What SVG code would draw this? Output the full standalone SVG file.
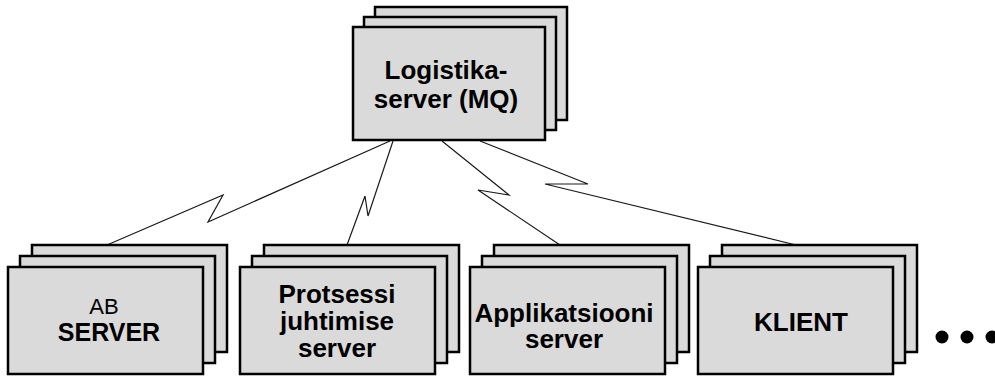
<svg xmlns="http://www.w3.org/2000/svg" width="995" height="381" viewBox="0 0 995 381">
  <style>
    .card { fill: #dadada; stroke: #000; stroke-width: 2.5; }
    .link { fill: none; stroke: #1a1a1a; stroke-width: 1.2; stroke-linejoin: miter; }
    .lbl { font-family: "Liberation Sans", Arial, sans-serif; font-weight: bold; font-size: 26px; fill: #000; text-anchor: middle; }
    .small { font-weight: normal; font-size: 22px; }
  </style>
  <defs>
    <!-- stack of three cards for the top server -->
    <g id="stackTop">
      <rect class="card" x="22" y="-20" width="192" height="113"/>
      <rect class="card" x="11" y="-10" width="192" height="113"/>
      <rect class="card" x="0" y="0" width="192" height="113"/>
    </g>
    <!-- stack of three cards for the lower row -->
    <g id="stack">
      <rect class="card" x="24" y="-22" width="195" height="107"/>
      <rect class="card" x="12" y="-11" width="195" height="107"/>
      <rect class="card" x="0" y="0" width="195" height="107"/>
    </g>
  </defs>

  <!-- lightning-style links from the logistics server -->
  <g id="connectors">
    <polyline class="link" points="390,141 208,222 223,195 107,245"/>
    <polyline class="link" points="393,141 368,216 365,196 347,245"/>
    <polyline class="link" points="442,141 509,195 478,190 560,245"/>
    <polyline class="link" points="480,141 588,184 545,184 796,245"/>
  </g>

  <g id="logistika">
    <use href="#stackTop" x="353" y="27"/>
    <text class="lbl" x="446" y="79">Logistika-</text>
    <text class="lbl" x="446" y="108">server (MQ)</text>
  </g>

  <g id="ab-server">
    <use href="#stack" x="8" y="267"/>
    <text class="lbl small" x="104" y="314">AB</text>
    <text class="lbl" x="109" y="341" style="font-size:25px">SERVER</text>
  </g>

  <g id="protsessi">
    <use href="#stack" x="240" y="267"/>
    <text class="lbl" x="337" y="303">Protsessi</text>
    <text class="lbl" x="337" y="330">juhtimise</text>
    <text class="lbl" x="337" y="357">server</text>
  </g>

  <g id="applikatsiooni">
    <use href="#stack" x="470" y="267"/>
    <text class="lbl" x="564" y="322">Applikatsiooni</text>
    <text class="lbl" x="564" y="348">server</text>
  </g>

  <g id="klient">
    <use href="#stack" x="698" y="267"/>
    <text class="lbl" x="801" y="331">KLIENT</text>
  </g>

  <!-- ellipsis: more clients -->
  <g id="more">
    <circle cx="942" cy="337" r="6.5" fill="#000"/>
    <circle cx="967" cy="337" r="6.5" fill="#000"/>
    <circle cx="992" cy="337" r="6.5" fill="#000"/>
  </g>
</svg>
